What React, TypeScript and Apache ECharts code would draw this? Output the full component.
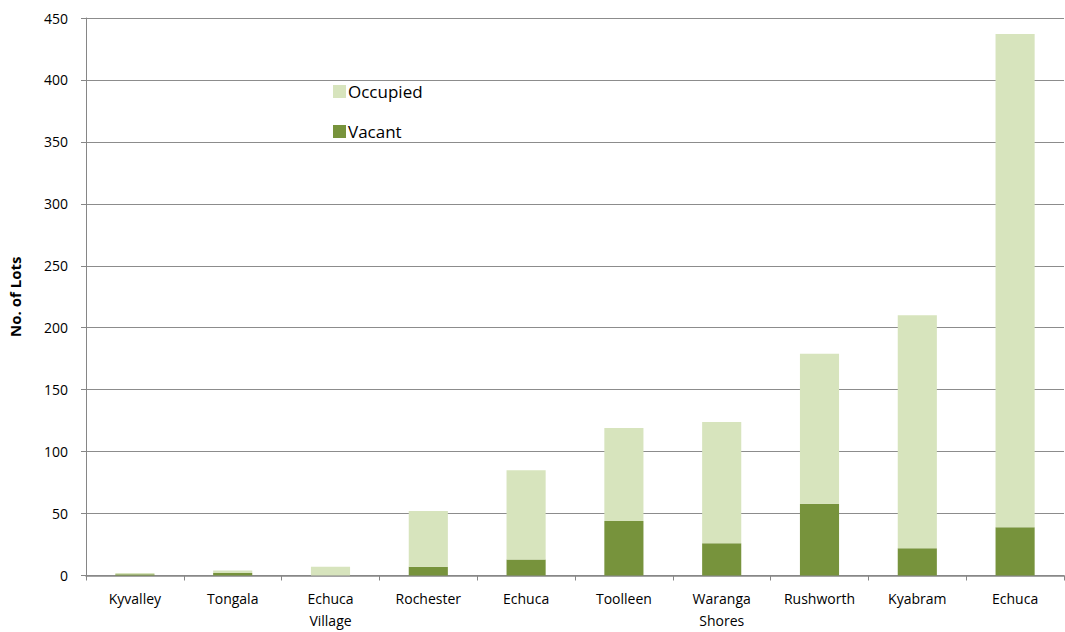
import React, { useEffect, useRef } from "react";
import * as echarts from "echarts";

const categories = ["Kyvalley", "Tongala", "Echuca\nVillage", "Rochester", "Echuca", "Toolleen", "Waranga\nShores", "Rushworth", "Kyabram", "Echuca"];
const vacant = [1, 2, 0, 7, 13, 44, 26, 58, 22, 39];
const occupied = [1, 2, 7, 45, 72, 75, 98, 121, 188, 398];
const yTicks = { min: 0, max: 450, interval: 50 };

export default function App() {
  const ref = useRef<HTMLDivElement>(null);
  useEffect(() => {
    if (!ref.current) return;
    const chart = echarts.init(ref.current, null, { renderer: "svg" });
    const font = "'Open Sans', 'Noto Sans', sans-serif";
    chart.setOption({
      animation: false,
      backgroundColor: "#ffffff",
      textStyle: { fontFamily: font },
      grid: { left: 86, right: 1, top: 18, bottom: 56.5, containLabel: false, outerBoundsMode: "none" },
      legend: {
        orient: "vertical",
        left: 328,
        top: 78,
        itemWidth: 13,
        itemHeight: 13,
        itemGap: 23,
        data: ["Occupied", "Vacant"],
        textStyle: { fontFamily: font, fontSize: 17, color: "#000", padding: [0, 0, 0, -3] },
        icon: "rect",
      },
      xAxis: {
        type: "category",
        data: categories,
        axisLine: { lineStyle: { color: "#868686", width: 1.5 } },
        axisTick: { show: true, length: 5, lineStyle: { color: "#868686" } },
        axisLabel: { fontFamily: font, fontSize: 14, color: "#000", margin: 12, lineHeight: 22, interval: 0 },
      },
      yAxis: {
        type: "value",
        min: yTicks.min,
        max: yTicks.max,
        interval: yTicks.interval,
        name: "No. of Lots",
        nameLocation: "middle",
        nameGap: 64,
        nameTextStyle: { fontFamily: font, fontSize: 15, fontWeight: "bold", color: "#000" },
        axisLine: { show: true, lineStyle: { color: "#868686", width: 1 } },
        axisTick: { show: true, length: 5, lineStyle: { color: "#868686" } },
        axisLabel: { fontFamily: font, fontSize: 14, color: "#000", margin: 18 },
        splitLine: { lineStyle: { color: "#8c8c8c", width: 1.2 } },
      },
      series: [
        {
          name: "Vacant",
          type: "bar",
          stack: "lots",
          data: vacant,
          barCategoryGap: "60%",
          itemStyle: { color: "#77933C" },
        },
        {
          name: "Occupied",
          type: "bar",
          stack: "lots",
          data: occupied,
          barCategoryGap: "60%",
          itemStyle: { color: "#D7E4BD" },
        },
      ],
    });
    return () => chart.dispose();
  }, []);
  return <div ref={ref} style={{ width: 1065, height: 632, position: "absolute", left: 0, top: 0 }} />;
}
